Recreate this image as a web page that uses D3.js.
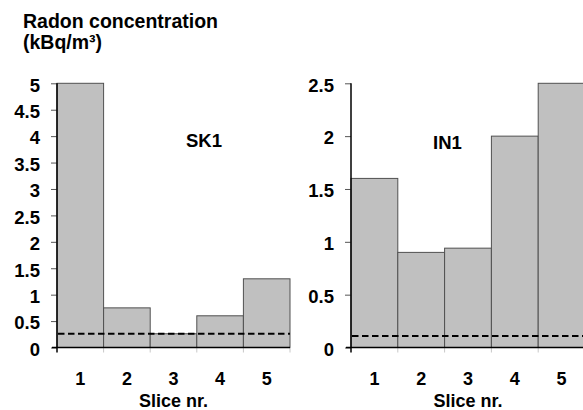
<!DOCTYPE html>
<html><head><meta charset="utf-8">
<script src="https://cdn.jsdelivr.net/npm/d3@7"></script>
<style>body{margin:0;background:#fff}svg{display:block}text{font-family:Arial,"Liberation Sans",sans-serif;font-weight:bold;fill:#000}</style>
</head><body><svg id="c" width="583" height="410"></svg>
<script>
const slices = ["1","2","3","4","5"];
const sk1Values = [5, 0.75, 0.26, 0.6, 1.3];
const in1Values = [1.6, 0.9, 0.94, 2.0, 2.5];
const sk1Threshold = 0.26;
const in1Threshold = 0.11;
const sk1Ticks = [0,0.5,1,1.5,2,2.5,3,3.5,4,4.5,5];
const in1Ticks = [0,0.5,1,1.5,2,2.5];
const yTitle = ["Radon concentration","(kBq/m³)"];
const xTitle = "Slice nr.";

const svg = d3.select("#c");
svg.append("text").attr("x",23).attr("y",27.5).style("font-size","19.5px").text(yTitle[0]);
svg.append("text").attr("x",23).attr("y",49).style("font-size","19.5px").text(yTitle[1]);

const Y0 = 347.5, YT = 83.3;
function panel(o){
  const g = svg.append("g");
  const x = d3.scaleBand().domain(slices).range([o.x0,o.x1]).padding(0);
  const y = d3.scaleLinear().domain([0,o.max]).range([Y0,YT]);
  g.selectAll("rect").data(o.values).join("rect")
    .attr("x",(d,i)=>x(slices[i])).attr("width",x.bandwidth())
    .attr("y",d=>y(d)).attr("height",d=>y(0)-y(d))
    .attr("fill","#c0c0c0").attr("stroke","#505050").attr("stroke-width",1);
  const bounds = slices.slice(1).map(s=>x(s)).concat([o.x1]);
  g.selectAll("line.mt").data(bounds).join("line").attr("class","mt")
    .attr("x1",d=>d).attr("x2",d=>d)
    .attr("y1",Y0).attr("y2",Y0+5).attr("stroke","#c8c8c8").attr("stroke-width",1);
  g.append("line").attr("x1",o.x0+1).attr("x2",o.x1).attr("y1",y(o.thr)).attr("y2",y(o.thr))
    .attr("stroke","#000").attr("stroke-width",2).attr("stroke-dasharray","6.5,3.5");
  const ya = g.append("g").attr("transform",`translate(${o.x0},0)`)
    .call(d3.axisLeft(y).tickValues(o.ticks).tickSize(6).tickPadding(11).tickFormat(d3.format("")));
  ya.select(".domain").remove();
  ya.selectAll(".tick line").attr("stroke","#555").attr("stroke-width",1);
  ya.selectAll(".tick text").style("font-size","18.5px").style("font-family","Arial, 'Liberation Sans', sans-serif").attr("dy","0.42em");
  g.append("line").attr("x1",o.x0).attr("x2",o.x0).attr("y1",YT).attr("y2",Y0+5).attr("stroke","#000").attr("stroke-width",1.5);
  g.append("line").attr("x1",o.x0-5).attr("x2",o.x1).attr("y1",Y0).attr("y2",Y0).attr("stroke","#000").attr("stroke-width",1.5);
  g.selectAll("text.xl").data(slices).join("text").attr("class","xl")
    .attr("x",d=>x(d)+x.bandwidth()/2).attr("y",385).attr("text-anchor","middle").style("font-size","18px").text(d=>d);
  g.append("text").attr("x",x("3")+x.bandwidth()/2).attr("y",406.5).attr("text-anchor","middle").style("font-size","18px").text(xTitle);
  g.append("text").attr("x",o.lx).attr("y",o.ly).attr("text-anchor","middle").style("font-size","18.5px").text(o.name);
}
panel({x0:57,x1:290,max:5,values:sk1Values,thr:sk1Threshold,ticks:sk1Ticks,name:"SK1",lx:204,ly:147});
panel({x0:351,x1:585,max:2.5,values:in1Values,thr:in1Threshold,ticks:in1Ticks,name:"IN1",lx:447.5,ly:149});
</script></body></html>
